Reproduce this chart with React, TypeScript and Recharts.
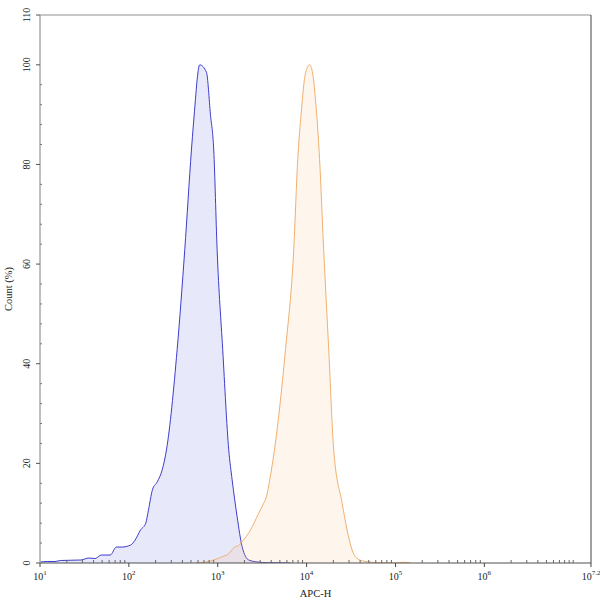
import React from "react";
import { ComposedChart, Area, XAxis, YAxis, ReferenceLine } from "recharts";

// x values are log10(APC-H)
const blueLogApc = [1.006, 1.08, 1.17, 1.23, 1.34, 1.46, 1.55, 1.62, 1.69, 1.79, 1.86, 1.92, 2.02, 2.07, 2.13, 2.19, 2.22, 2.265, 2.32, 2.375, 2.423, 2.543, 2.629, 2.704, 2.749, 2.768, 2.797, 2.873, 2.918, 2.955, 2.993, 3.056, 3.124, 3.162, 3.218, 3.274, 3.349, 3.45, 3.556, 3.82];
const blueCount = [0.2, 0.3, 0.3, 0.5, 0.55, 0.6, 1.0, 0.9, 1.6, 1.6, 3.2, 3.2, 3.6, 4.6, 6.6, 8, 10.6, 14.7, 16.3, 18.7, 22.7, 42.8, 62.9, 82.9, 93, 97, 100, 98.5, 90, 82.9, 62.9, 42.8, 22.7, 16.7, 9.3, 3.3, 0.6, 0.2, 0.06, 0];

const orangeLogApc = [2.749, 2.862, 2.955, 3.03, 3.124, 3.199, 3.225, 3.274, 3.368, 3.461, 3.517, 3.548, 3.585, 3.638, 3.762, 3.855, 3.9, 3.94, 3.975, 4.005, 4.032, 4.065, 4.1, 4.146, 4.192, 4.249, 4.305, 4.4, 4.456, 4.512, 4.586, 4.68, 4.83, 5.0, 5.09, 5.17];
const orangeCount = [0, 0.2, 0.6, 1.1, 1.9, 3.3, 3.4, 4.3, 6.6, 10, 12, 13.3, 16.7, 22.7, 42.8, 62.9, 81, 90.5, 97, 99.4, 100, 98.6, 93, 81, 62.9, 42.8, 22.7, 12, 6.6, 2.6, 0.7, 0.26, 0.06, 0, 0.15, 0];

const xMajorExponents = [1, 2, 3, 4, 5, 6, 7.2];
const xMajorLabels = ["1", "2", "3", "4", "5", "6", "7.2"];
const yMajorTicks = [0, 20, 40, 60, 80, 100, 110];
const yMinorStep = 4;

const blueData = blueLogApc.map((x, i) => ({ x, y: blueCount[i] }));
const orangeData = orangeLogApc.map((x, i) => ({ x, y: orangeCount[i] }));

const xMinor: number[] = [];
for (let d = 1; d <= 6; d++) {
  for (let k = 2; k <= 9; k++) xMinor.push(d + Math.log10(k));
}
xMinor.push(7);
const xTicks = [...xMajorExponents, ...xMinor].sort((a, b) => a - b);

const yMinor: number[] = [];
for (let v = 0; v <= 100; v += yMinorStep) if (!yMajorTicks.includes(v)) yMinor.push(v);
const yTicks = [...yMajorTicks, ...yMinor].sort((a, b) => a - b);

const FONT = "'Liberation Serif', 'Times New Roman', serif";

const XTick = (props: any) => {
  const { x, y, payload } = props;
  const idx = xMajorExponents.findIndex((e) => Math.abs(e - payload.value) < 1e-9);
  if (idx < 0) {
    return <line x1={x} x2={x} y1={y} y2={y - 3} stroke="#666" strokeWidth={1} />;
  }
  return (
    <g>
      <line x1={x} x2={x} y1={y} y2={y + 4} stroke="#444" strokeWidth={1} />
      <text x={x} y={y + 17} textAnchor="middle" fontFamily={FONT} fontSize={10} fill="#222">
        <tspan>10</tspan>
        <tspan dy={-5} fontSize={7}>{xMajorLabels[idx]}</tspan>
      </text>
    </g>
  );
};

const YTick = (props: any) => {
  const { x, y, payload } = props;
  const isMajor = yMajorTicks.includes(payload.value);
  if (!isMajor) {
    return <line x1={x} x2={x + 2} y1={y} y2={y} stroke="#777" strokeWidth={1} />;
  }
  const tx = x - 10;
  return (
    <g>
      <line x1={x - 4} x2={x} y1={y} y2={y} stroke="#555" strokeWidth={1} />
      <text x={tx} y={y} transform={`rotate(-90, ${tx}, ${y})`} textAnchor="middle" fontFamily={FONT} fontSize={10} fill="#222">
        {payload.value}
      </text>
    </g>
  );
};

export default function App() {
  return (
    <div style={{ position: "absolute", left: 0, top: 0, background: "#fff" }}>
      <ComposedChart width={600} height={602} margin={{ top: 15, right: 9, bottom: 0, left: 0 }}>
        <XAxis
          type="number"
          dataKey="x"
          domain={[1, 7.2]}
          ticks={xTicks}
          interval={0}
          allowDataOverflow
          tick={<XTick />}
          tickLine={false}
          tickSize={0}
          tickMargin={0}
          height={39}
          axisLine={{ stroke: "#505050" }}
          label={{ value: "APC-H", position: "insideBottom", offset: 5, fontFamily: FONT, fontSize: 10.5, fill: "#222" }}
        />
        <YAxis
          type="number"
          domain={[0, 110]}
          ticks={yTicks}
          interval={0}
          allowDataOverflow
          tick={<YTick />}
          tickLine={false}
          tickSize={0}
          tickMargin={0}
          width={40}
          axisLine={{ stroke: "#808080" }}
          label={{ value: "Count (%)", angle: -90, position: "insideLeft", offset: 8, fontFamily: FONT, fontSize: 10.5, fill: "#222", style: { textAnchor: "middle" } }}
        />
        <ReferenceLine y={110} stroke="#909090" strokeWidth={1} />
        <ReferenceLine x={7.2} stroke="#404040" strokeWidth={1} />
        <Area
          data={blueData}
          dataKey="y"
          type="monotone"
          stroke="#3d3dcc"
          strokeWidth={1}
          fill="#5a5ae6"
          fillOpacity={0.14}
          isAnimationActive={false}
          dot={false}
          activeDot={false}
        />
        <Area
          data={orangeData}
          dataKey="y"
          type="monotone"
          stroke="#f0b071"
          strokeWidth={1}
          fill="#f7b070"
          fillOpacity={0.13}
          isAnimationActive={false}
          dot={false}
          activeDot={false}
        />
      </ComposedChart>
    </div>
  );
}
